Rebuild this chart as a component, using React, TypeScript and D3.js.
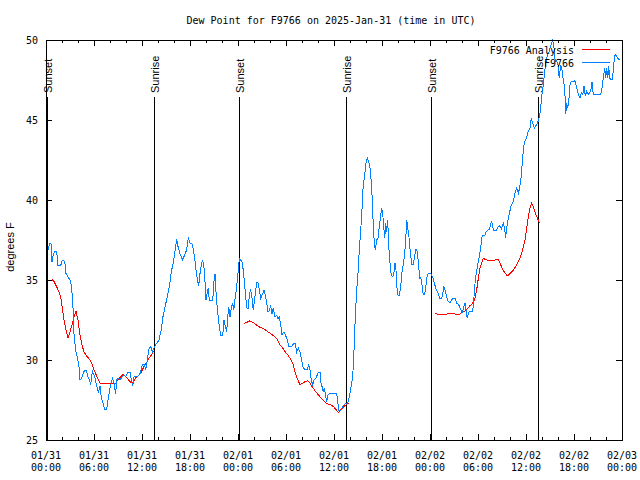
import * as React from "react";
import * as d3 from "d3";

const red: string = "rgb(255, 0, 0)";
const blue: string = "rgb(0, 128, 255)";
const monoFont: string = "'DejaVu Sans Mono', monospace";
const sansFont: string = "'Liberation Sans', Arial, sans-serif";

const startTime: Date = new Date(Date.UTC(2025, 0, 31, 0, 0));
const endTime: Date = new Date(Date.UTC(2025, 1, 3, 0, 0));
const yTicks: number[] = [25, 30, 35, 40, 45, 50];

// [hours after 01/31 00:00 UTC, dew point F]
const stationObs: [number, number][] = [
    [0.25, 36.9], [0.5, 37.3], [0.62, 37.3], [0.75, 36.1], [0.91, 36.6], [1.12, 36.8], [1.33, 36.8],
    [1.5, 35.9], [1.84, 35.9], [2.04, 36.25], [2.34, 36.15], [2.5, 35.4], [2.75, 35.2], [3.09, 34.9],
    [3.29, 34.0], [3.41, 33.0], [3.5, 31.6], [3.71, 30.6], [3.91, 30.2], [4.12, 29.6], [4.25, 28.75],
    [4.46, 28.85], [4.75, 29.3], [5.04, 29.35], [5.25, 28.95], [5.46, 28.75], [5.59, 28.45], [5.79, 29.3],
    [6.09, 28.95], [6.34, 28.35], [6.54, 28.0], [6.75, 28.35], [6.91, 27.7], [7.12, 27.3], [7.34, 26.9],
    [7.59, 26.9], [7.75, 27.5], [8.0, 28.25], [8.29, 28.85], [8.5, 28.55], [8.71, 27.9], [8.84, 28.75],
    [9.0, 28.85], [9.25, 28.75], [9.54, 28.95], [9.75, 29.05], [9.96, 28.95], [10.25, 29.25], [10.5, 29.25],
    [10.66, 28.75], [10.84, 28.35], [11.0, 28.95], [11.41, 28.95], [11.75, 29.15], [12.04, 29.7], [12.25, 29.75],
    [12.46, 29.4], [12.66, 30.0], [12.87, 30.7], [13.09, 30.85], [13.29, 30.5], [13.59, 30.85], [13.84, 31.05],
    [14.12, 31.25], [14.41, 31.9], [14.62, 32.7], [14.87, 33.3], [15.16, 33.95], [15.46, 34.7], [15.66, 35.5],
    [15.91, 36.1], [16.12, 36.8], [16.34, 37.55], [16.5, 37.1], [16.75, 36.65], [17.04, 36.25], [17.34, 36.55],
    [17.59, 36.9], [17.79, 37.65], [18.0, 37.3], [18.29, 37.25], [18.59, 36.35], [18.75, 35.6], [18.91, 35.1],
    [19.09, 34.6], [19.25, 35.4], [19.46, 36.05], [19.59, 36.25], [19.75, 35.75], [19.87, 34.9], [20.0, 33.75],
    [20.16, 34.25], [20.29, 34.5], [20.41, 33.75], [20.84, 33.75], [21.0, 34.9], [21.12, 35.4], [21.25, 34.25],
    [21.41, 33.25], [21.54, 32.6], [21.66, 32.1], [21.84, 31.55], [22.09, 31.55], [22.25, 32.5], [22.41, 32.1],
    [22.59, 31.75], [22.71, 32.7], [22.84, 33.3], [23.0, 32.7], [23.16, 33.25], [23.34, 33.55], [23.46, 33.1],
    [23.59, 33.65], [23.75, 34.25], [23.87, 34.8], [24.04, 35.6], [24.16, 36.35], [24.34, 36.25], [24.5, 36.15],
    [24.66, 35.6], [24.79, 34.9], [24.91, 34.25], [25.09, 33.25], [25.29, 33.2], [25.41, 34.05], [25.59, 34.4],
    [25.75, 33.85], [25.91, 33.1], [26.12, 33.95], [26.34, 34.85], [26.54, 34.8], [26.66, 34.4], [26.84, 33.85],
    [27.0, 34.05], [27.25, 34.35], [27.41, 34.05], [27.59, 33.55], [27.75, 33.0], [27.91, 33.1], [28.09, 33.35],
    [28.25, 32.9], [28.41, 33.25], [28.62, 32.7], [28.84, 32.8], [29.0, 32.6], [29.16, 32.7], [29.34, 32.2],
    [29.5, 31.55], [29.66, 31.75], [29.87, 31.65], [30.16, 31.25], [30.34, 30.85], [30.71, 30.85], [31.0, 31.05],
    [31.16, 31.05], [31.34, 30.5], [31.54, 30.75], [31.75, 30.5], [31.96, 30.0], [32.16, 29.5], [32.37, 29.4],
    [32.66, 29.4], [32.84, 29.7], [33.0, 29.4], [33.16, 28.75], [33.34, 28.45], [33.5, 28.75], [33.75, 28.85],
    [33.96, 29.15], [34.12, 29.25], [34.25, 29.25], [34.37, 28.55], [34.5, 28.35], [34.66, 28.0], [34.79, 28.25],
    [34.91, 27.9], [35.09, 27.4], [35.25, 27.8], [35.41, 27.9], [36.34, 27.9], [36.46, 27.4], [36.62, 26.85],
    [36.84, 26.85], [37.09, 27.1], [37.37, 27.25], [37.59, 27.3], [37.79, 27.4], [37.91, 27.7], [38.34, 28.95],
    [38.5, 30.6], [38.66, 32.7], [38.84, 34.4], [39.04, 35.7], [39.16, 36.9], [39.34, 38.1], [39.5, 39.4],
    [39.59, 40.5], [39.75, 41.25], [39.87, 41.75], [40.0, 42.3], [40.16, 42.65], [40.34, 42.4], [40.5, 42.0],
    [40.66, 41.15], [40.79, 40.0], [40.91, 38.35], [41.04, 37.3], [41.16, 36.9], [41.34, 37.5], [41.5, 37.6],
    [41.66, 38.35], [41.84, 39.05], [41.96, 39.5], [42.09, 39.15], [42.21, 38.35], [42.34, 37.6], [42.46, 38.55],
    [42.59, 38.0], [42.71, 38.75], [42.84, 37.1], [43.0, 36.05], [43.16, 35.3], [43.34, 35.2], [43.5, 35.5],
    [43.62, 36.05], [43.75, 35.6], [43.87, 34.5], [44.0, 34.05], [44.16, 34.05], [44.34, 34.6], [44.5, 35.5],
    [44.66, 35.95], [44.84, 36.65], [44.96, 37.5], [45.09, 38.75], [45.21, 38.25], [45.34, 37.9], [45.46, 37.1],
    [45.59, 36.55], [45.71, 35.95], [45.91, 35.95], [46.09, 36.55], [46.25, 36.9], [46.41, 36.8], [46.59, 35.85],
    [46.71, 35.1], [46.84, 35.15], [46.96, 34.9], [47.09, 34.25], [47.25, 34.05], [47.41, 34.3], [47.59, 35.1],
    [47.75, 35.4], [48.09, 35.4], [48.34, 35.2], [48.54, 34.8], [48.75, 34.45], [48.91, 34.3], [49.09, 34.05],
    [49.25, 33.85], [49.46, 33.85], [49.59, 34.05], [49.71, 34.6], [49.87, 34.4], [50.09, 33.95], [50.29, 33.65],
    [50.5, 33.55], [50.71, 33.75], [50.91, 33.85], [51.16, 33.85], [51.34, 33.55], [51.59, 33.45], [51.75, 33.25],
    [52.04, 33.0], [52.25, 33.35], [52.37, 33.55], [52.5, 33.1], [52.66, 32.6], [52.84, 33.0], [53.0, 33.05],
    [53.34, 33.05], [53.5, 33.95], [53.66, 35.0], [53.84, 35.6], [54.0, 36.05], [54.16, 36.45], [54.34, 37.0],
    [54.5, 37.7], [54.66, 37.8], [54.87, 37.8], [55.0, 38.0], [55.21, 38.1], [55.37, 38.15], [55.5, 38.3],
    [55.69, 38.7], [55.84, 38.3], [56.0, 38.1], [56.25, 38.1], [56.5, 38.3], [56.75, 38.4], [56.94, 38.2],
    [57.16, 38.55], [57.34, 38.2], [57.44, 37.6], [57.59, 38.3], [57.75, 38.75], [57.94, 39.2], [58.12, 39.6],
    [58.37, 39.85], [58.62, 40.4], [58.81, 40.75], [59.06, 40.43], [59.25, 40.9], [59.44, 41.57], [59.56, 42.6],
    [59.75, 43.45], [59.91, 43.75], [60.09, 43.9], [60.29, 44.3], [60.5, 44.5], [60.66, 45.1], [60.84, 44.8],
    [61.04, 44.5], [61.25, 44.65], [61.41, 44.8], [61.59, 45.0], [61.75, 45.45], [61.87, 45.95], [62.0, 46.6],
    [62.16, 47.2], [62.34, 48.05], [62.5, 48.65], [62.71, 49.1], [62.91, 49.3], [63.12, 49.7], [63.34, 50.0],
    [63.5, 49.5], [63.66, 48.65], [63.84, 48.7], [64.0, 48.45], [64.16, 47.6], [64.34, 48.45], [64.5, 48.15],
    [64.66, 47.5], [64.84, 47.0], [64.96, 45.35], [65.09, 46.05], [65.21, 45.75], [65.34, 46.15], [65.5, 47.2],
    [65.66, 47.4], [65.91, 47.4], [66.12, 47.45], [66.34, 47.0], [66.54, 46.6], [66.75, 46.4], [66.91, 46.7],
    [67.09, 46.6], [67.25, 47.1], [67.41, 46.5], [67.59, 46.8], [67.79, 46.6], [68.09, 46.8], [68.25, 47.4],
    [68.41, 46.6], [69.34, 46.6], [69.5, 47.0], [69.66, 47.6], [69.84, 48.25], [69.96, 47.6], [70.09, 48.25],
    [70.21, 47.6], [70.34, 48.35], [70.46, 47.6], [70.75, 47.5], [70.91, 48.05], [71.04, 48.9], [71.16, 49.1],
    [71.41, 48.9], [71.66, 48.75]
];

// analysis comes in three separate runs
const analysisRun1: [number, number][] = [
    [0.75, 35.05], [1.0, 34.9], [1.21, 34.7], [1.41, 34.5], [1.62, 34.25], [1.84, 33.95], [2.04, 33.25],
    [2.25, 32.5], [2.5, 31.9], [2.75, 31.4], [3.0, 31.75], [3.25, 32.2], [3.5, 32.7], [3.75, 33.05],
    [4.0, 32.5], [4.25, 31.55], [4.5, 30.95], [4.75, 30.5], [5.0, 30.3], [5.25, 30.15], [5.5, 30.0],
    [5.75, 29.75], [6.0, 29.4], [6.25, 29.1], [6.5, 28.8], [6.75, 28.55], [8.71, 28.55], [9.0, 28.75],
    [9.34, 28.95], [9.66, 29.1], [9.96, 28.95], [10.25, 28.8], [10.5, 28.65], [10.75, 28.55], [11.0, 28.7],
    [11.25, 28.9], [11.59, 29.05], [11.91, 29.25], [12.25, 29.6], [12.59, 29.85], [12.87, 30.1], [13.16, 30.3],
    [13.41, 30.55]
];
const analysisRun2: [number, number][] = [
    [24.75, 32.3], [25.09, 32.35], [25.5, 32.45], [25.84, 32.35], [26.16, 32.25], [26.54, 32.1], [26.96, 32.0],
    [27.37, 31.9], [27.79, 31.75], [28.21, 31.6], [28.62, 31.45], [28.91, 31.3], [29.25, 30.95], [29.59, 30.75],
    [29.91, 30.5], [30.25, 30.3], [30.59, 30.05], [30.91, 29.7], [31.16, 29.15], [31.41, 28.85], [31.75, 28.45],
    [32.09, 28.55], [32.41, 28.65], [32.75, 28.7], [33.0, 28.55], [33.25, 28.35], [33.59, 28.1], [33.91, 27.9],
    [34.25, 27.7], [34.59, 27.5], [34.91, 27.35], [35.25, 27.25], [35.59, 27.2], [35.91, 27.1], [36.25, 26.9],
    [36.59, 26.7], [36.84, 26.9], [37.16, 27.05], [37.5, 27.2], [37.79, 27.3]
];
const analysisRun3: [number, number][] = [
    [48.62, 32.9], [49.04, 32.85], [49.46, 32.85], [49.87, 32.85], [50.41, 32.9], [50.91, 32.9], [51.25, 32.85],
    [51.66, 32.85], [52.09, 33.0], [52.5, 33.1], [52.91, 33.35], [53.34, 33.55], [53.62, 33.85], [53.84, 34.4],
    [54.04, 35.1], [54.25, 35.75], [54.46, 36.05], [54.66, 36.35], [55.09, 36.25], [55.59, 36.2], [56.12, 36.25],
    [56.54, 36.3], [56.84, 35.95], [57.16, 35.6], [57.66, 35.25], [58.0, 35.4], [58.41, 35.6], [58.84, 35.95],
    [59.25, 36.35], [59.59, 36.9], [59.87, 37.5], [60.09, 38.25], [60.29, 38.95], [60.5, 39.5], [60.71, 39.8],
    [60.91, 39.6], [61.12, 39.25], [61.34, 38.95], [61.54, 38.75], [61.66, 38.55]
];

const sunLabels: string[] = ["Sunset", "Sunrise", "Sunset", "Sunrise", "Sunset", "Sunrise"];
const sunHours: number[] = [0.12, 13.5, 24.12, 37.5, 48.12, 61.5];

const legendNames: string[] = ["F9766 Analysis", "F9766"];

type MarginType = { top: number; right: number; bottom: number; left: number; };

const toDate = (h: number): Date => new Date(startTime.getTime() + h * 3600 * 1000);

class DewPointChart extends React.PureComponent<{ width: number; height: number }> {
    private svgRef: React.RefObject<SVGSVGElement> = React.createRef();
    private margin: MarginType = { top: 40, right: 18, bottom: 40, left: 46 };

    public componentDidMount(): void {
        this.drawGraph();
    }

    public render(): JSX.Element {
        return <svg ref={this.svgRef} width={this.props.width} height={this.props.height}
            style={{ position: "absolute", left: 0, top: 0, background: "white" }} />;
    }

    private drawGraph(): void {
        const { width, height } = this.props;
        const m: MarginType = this.margin;
        const svg = d3.select(this.svgRef.current);
        svg.selectAll("*").remove();
        svg.attr("shape-rendering", "crispEdges");

        const x = d3.scaleUtc().domain([startTime, endTime]).range([m.left, width - m.right]);
        const y = d3.scaleLinear().domain([25, 50]).range([height - m.bottom, m.top]);
        const bottom: number = height - m.bottom;
        const right: number = width - m.right;

        svg.append("text")
            .attr("x", 331).attr("y", 23.5)
            .attr("text-anchor", "middle")
            .style("font-family", monoFont).style("font-size", "10px")
            .text("Dew Point for F9766 on 2025-Jan-31 (time in UTC)");

        // ticks, gnuplot style (inward, mirrored)
        const styleAxis = (g: any): void => {
            g.select(".domain").remove();
            g.selectAll(".tick line").attr("stroke", "black");
            g.selectAll(".tick text").remove();
        };
        const major = d3.utcHour.every(6);
        const minor = d3.utcHour.every(2);
        svg.append("g").attr("transform", `translate(0,${bottom})`)
            .call(d3.axisBottom(x).ticks(minor).tickSizeInner(-3).tickSizeOuter(0)).call(styleAxis);
        svg.append("g").attr("transform", `translate(0,${bottom})`)
            .call(d3.axisBottom(x).ticks(major).tickSizeInner(-6).tickSizeOuter(0)).call(styleAxis);
        svg.append("g").attr("transform", `translate(0,${m.top})`)
            .call(d3.axisTop(x).ticks(minor).tickSizeInner(-3).tickSizeOuter(0)).call(styleAxis);
        svg.append("g").attr("transform", `translate(0,${m.top})`)
            .call(d3.axisTop(x).ticks(major).tickSizeInner(-6).tickSizeOuter(0)).call(styleAxis);
        svg.append("g").attr("transform", `translate(${m.left},0)`)
            .call(d3.axisLeft(y).tickValues(yTicks).tickSizeInner(-6).tickSizeOuter(0)).call(styleAxis);
        svg.append("g").attr("transform", `translate(${right},0)`)
            .call(d3.axisRight(y).tickValues(yTicks).tickSizeInner(-6).tickSizeOuter(0)).call(styleAxis);

        const xLabels = svg.append("g")
            .style("font-family", monoFont).style("font-size", "10px")
            .attr("text-anchor", "middle");
        const fmtDay = d3.utcFormat("%m/%d");
        const fmtTime = d3.utcFormat("%H:%M");
        x.ticks(major).forEach((d: Date) => {
            const t = xLabels.append("text").attr("x", x(d));
            t.append("tspan").attr("x", x(d)).attr("y", bottom + 18.5).text(fmtDay(d));
            t.append("tspan").attr("x", x(d)).attr("y", bottom + 31).text(fmtTime(d));
        });

        svg.append("g")
            .style("font-family", monoFont).style("font-size", "10px")
            .attr("text-anchor", "end")
            .selectAll("text").data(yTicks).enter().append("text")
            .attr("x", m.left - 8)
            .attr("y", (d: number) => y(d) + 3.5)
            .text((d: number) => String(d));

        svg.append("text")
            .attr("transform", `translate(14, 247) rotate(-90)`)
            .attr("text-anchor", "middle")
            .style("font-family", sansFont).style("font-size", "11px")
            .text("degrees F");

        // sunrise / sunset markers
        sunHours.forEach((h: number, i: number) => {
            const px: number = Math.round(x(toDate(h))) + 0.5;
            svg.append("line")
                .attr("x1", px).attr("x2", px)
                .attr("y1", bottom).attr("y2", 97)
                .attr("stroke", "black");
            svg.append("text")
                .attr("transform", `translate(${px + 4.5}, 93) rotate(-90)`)
                .attr("text-anchor", "start")
                .style("font-family", sansFont).style("font-size", "11px")
                .text(sunLabels[i]);
        });

        const line = d3.line<[number, number]>()
            .x((d: [number, number]) => x(toDate(d[0])))
            .y((d: [number, number]) => y(d[1]));

        [analysisRun1, analysisRun2, analysisRun3].forEach((run: [number, number][]) => {
            svg.append("path").datum(run)
                .attr("d", line)
                .attr("fill", "none")
                .attr("stroke", red)
                .attr("stroke-width", 1);
        });
        svg.append("path").datum(stationObs)
            .attr("d", line)
            .attr("fill", "none")
            .attr("stroke", blue)
            .attr("stroke-width", 1);

        // legend
        const colors: string[] = [red, blue];
        legendNames.forEach((name: string, i: number) => {
            const cy: number = 49.5 + i * 12.5;
            svg.append("text")
                .attr("x", 574).attr("y", cy + 4.5)
                .attr("text-anchor", "end")
                .style("font-family", monoFont).style("font-size", "10px")
                .text(name);
            svg.append("line")
                .attr("x1", 582).attr("x2", 610)
                .attr("y1", cy).attr("y2", cy)
                .attr("stroke", colors[i]);
        });

        svg.append("rect")
            .attr("x", m.left + 0.5).attr("y", m.top + 0.5)
            .attr("width", right - m.left).attr("height", bottom - m.top)
            .attr("fill", "none").attr("stroke", "black");
    }
}

export default function App(): JSX.Element {
    return <DewPointChart width={640} height={480} />;
}
